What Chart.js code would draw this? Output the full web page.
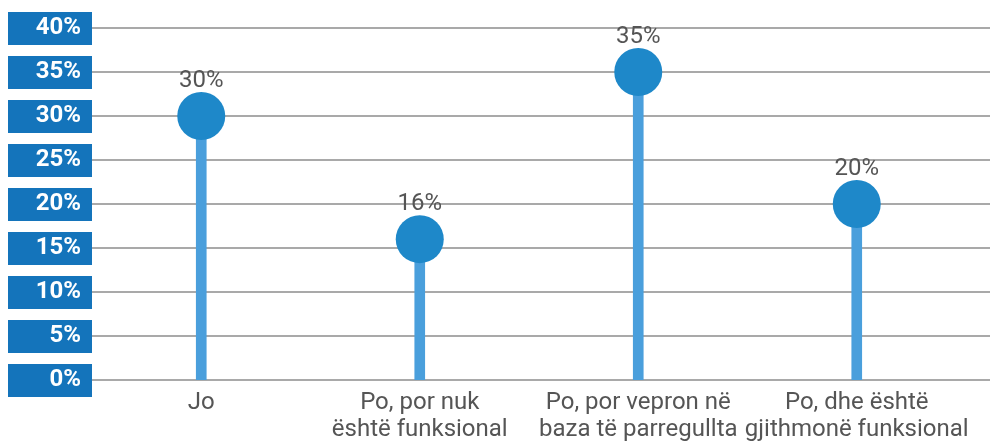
<!DOCTYPE html>
<html>
<head>
<meta charset="utf-8">
<script src="https://cdn.jsdelivr.net/npm/chart.js@4/dist/chart.umd.min.js"></script>
<style>
  html, body { margin: 0; padding: 0; background: #fff; }
  #wrap { width: 990px; height: 441px; position: relative; }
</style>
</head>
<body>
<div id="wrap"><canvas id="grafico"></canvas></div>
<script>
// --- DATOS ---
const categorias = [
    'Jo',
    ['Po, por nuk', 'është funksional'],
    ['Po, por vepron në', 'baza të parregullta'],
    ['Po, dhe është', 'gjithmonë funksional']
];
const valores = [30, 16, 35, 20];
const yTicks = [0, 5, 10, 15, 20, 25, 30, 35, 40];

// --- COLORES ---
const azulCaja = '#1474bb';
const azulPunto = '#1e88c9';
const azulTallo = '#4a9fdc';
const grisLinea = '#a9a9a9';
const grisTexto = '#555555';

// cajas azules detras de las etiquetas del eje Y
const cajasEjeY = {
    id: 'cajasEjeY',
    beforeDraw(chart) {
        const ctx = chart.ctx;
        const y = chart.scales.y;
        ctx.save();
        ctx.fillStyle = azulCaja;
        y.ticks.forEach(t => {
            const py = y.getPixelForValue(t.value);
            ctx.fillRect(8, Math.round(py - 16.5), chart.chartArea.left - 8, 33);
        });
        ctx.restore();
    },
    beforeDatasetsDraw(chart) {
        // lineas de la grilla hasta el borde derecho del lienzo
        const ctx = chart.ctx;
        const y = chart.scales.y;
        ctx.save();
        ctx.strokeStyle = grisLinea;
        ctx.lineWidth = 2;
        y.ticks.forEach(t => {
            const py = y.getPixelForValue(t.value);
            ctx.beginPath();
            ctx.moveTo(chart.chartArea.left, py);
            ctx.lineTo(chart.width, py);
            ctx.stroke();
        });
        ctx.restore();
    }
};

// etiquetas de porcentaje encima de cada punto
const etiquetasValor = {
    id: 'etiquetasValor',
    afterDatasetsDraw(chart) {
        const ctx = chart.ctx;
        const meta = chart.getDatasetMeta(1);
        ctx.save();
        ctx.fillStyle = grisTexto;
        ctx.font = '24px Roboto';
        ctx.textAlign = 'center';
        ctx.textBaseline = 'alphabetic';
        meta.data.forEach((p, i) => {
            ctx.fillText(valores[i] + '%', p.x, p.y - 29);
        });
        ctx.restore();
    }
};

const ctx = document.getElementById('grafico').getContext('2d');
new Chart(ctx, {
    type: 'bar',
    data: {
        labels: categorias,
        datasets: [{
            type: 'bar',
            data: valores,
            backgroundColor: azulTallo,
            barThickness: 10,
            order: 1
        }, {
            type: 'line',
            data: valores,
            showLine: false,
            pointRadius: 24,
            pointHoverRadius: 24,
            pointBorderWidth: 0,
            pointBackgroundColor: azulPunto,
            order: 0
        }]
    },
    options: {
        responsive: true,
        maintainAspectRatio: false,
        animation: false,
        layout: { padding: { top: 28, right: 24, left: 0, bottom: 0 } },
        plugins: {
            legend: { display: false },
            tooltip: { enabled: false }
        },
        scales: {
            x: {
                grid: { display: false, drawTicks: false },
                border: { display: false },
                ticks: {
                    color: grisTexto,
                    font: { family: 'Roboto', size: 24, lineHeight: 1.12 },
                    padding: 10,
                    maxRotation: 0,
                    autoSkip: false
                },
                afterFit(s) { s.height = 61; }
            },
            y: {
                min: 0,
                max: 40,
                grid: { display: false, drawTicks: false },
                border: { display: false },
                afterBuildTicks(s) { s.ticks = yTicks.map(v => ({ value: v })); },
                ticks: {
                    color: '#ffffff',
                    font: { family: 'Roboto', size: 24, weight: 'bold' },
                    padding: 11,
                    callback: v => v + '%'
                },
                afterFit(s) { s.width = 92; }
            }
        }
    },
    plugins: [cajasEjeY, etiquetasValor]
});
</script>
</body>
</html>
